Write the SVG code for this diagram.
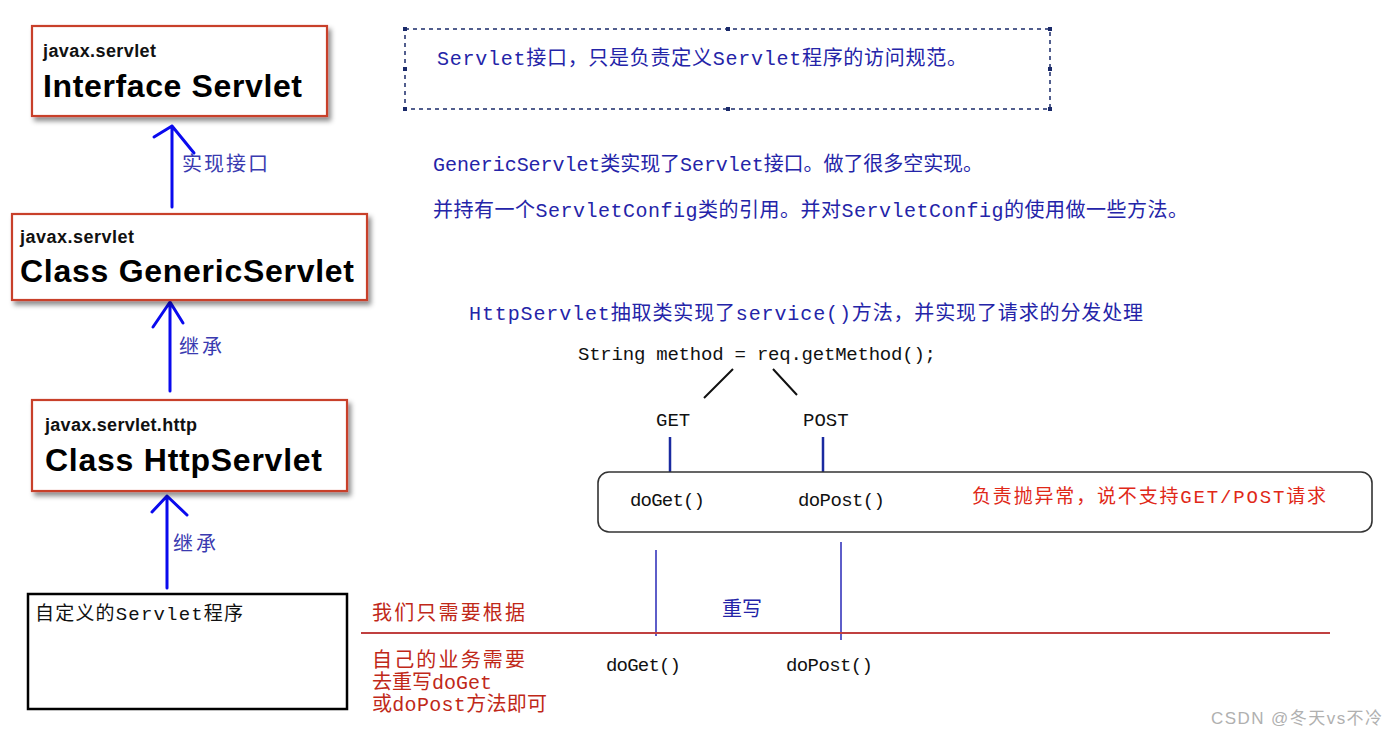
<svg xmlns="http://www.w3.org/2000/svg" width="1397" height="735" viewBox="0 0 1397 735">
<defs>
<filter id="sh" x="-10%" y="-10%" width="130%" height="140%">
<feDropShadow dx="3" dy="4" stdDeviation="2.5" flood-color="#000" flood-opacity="0.45"/>
</filter>
<style>
.cls{fill:#fff;stroke:#c8402a;stroke-width:2.2}
.pkg{font-family:"Liberation Sans",Arial,sans-serif;font-weight:bold;font-size:18px;fill:#111}
.ttl{font-family:"Liberation Sans",Arial,sans-serif;font-weight:bold;font-size:32px;fill:#000}
.arr{stroke:#0a0aee;stroke-width:3;fill:none;stroke-linecap:round;stroke-linejoin:round}
.lbl{font-family:"Liberation Mono","Noto Sans CJK SC",monospace;font-size:20px;fill:#3a3ab0}
.note{font-family:"Liberation Mono","Noto Sans CJK SC",monospace;font-size:20px;fill:#2424a8}
.code{font-family:"Liberation Mono","Noto Sans CJK SC",monospace;font-size:19px;fill:#111}
.red{font-family:"Liberation Mono","Noto Sans CJK SC",monospace;font-size:19px;fill:#e02818}
.dred{font-family:"Liberation Mono","Noto Sans CJK SC",monospace;font-size:20px;fill:#c02818}
.hd{fill:#1a2a6a}
</style>
</defs>
<rect width="1397" height="735" fill="#fff"/>

<g id="connectors">
<path class="arr" d="M172,207 V126 M154,137 L172,126 L194,153"/>
<path class="arr" d="M170,391 V302 M153,327 L170,302 L183,323"/>
<path class="arr" d="M167,588 V496 M152,512 L167,496 L187,515"/>
<path d="M733,369 L704,398 M773,369 L797,395" stroke="#111" stroke-width="2" fill="none"/>
<path d="M670,437 V476 M823,437 V474" stroke="#1a2aa0" stroke-width="2.5" fill="none"/>
<path d="M656,550 V636 M841,542 V640" stroke="#2a2ab8" stroke-width="1.5" fill="none"/>
<path d="M361,633 H1330" stroke="#c04040" stroke-width="2" fill="none"/>
</g>

<g id="lbl-impl"><text class="lbl" x="182" y="171" textLength="86">实现接口</text></g>
<g id="lbl-ext1"><text class="lbl" x="179" y="354" textLength="43">继承</text></g>
<g id="lbl-ext2"><text class="lbl" x="173" y="551" textLength="43">继承</text></g>

<g id="node-servlet">
<rect class="cls" x="32" y="26" width="295" height="90" filter="url(#sh)"/>
<text class="pkg" x="43" y="57" textLength="113">javax.servlet</text>
<text class="ttl" x="43" y="97" textLength="259">Interface Servlet</text>
</g>

<g id="node-generic">
<rect class="cls" x="12" y="214" width="355" height="86" filter="url(#sh)"/>
<text class="pkg" x="20" y="243" textLength="114">javax.servlet</text>
<text class="ttl" x="20" y="282" textLength="334">Class GenericServlet</text>
</g>

<g id="node-http">
<rect class="cls" x="32" y="400" width="315" height="91" filter="url(#sh)"/>
<text class="pkg" x="45" y="431" textLength="152">javax.servlet.http</text>
<text class="ttl" x="45" y="471" textLength="277">Class HttpServlet</text>
</g>

<g id="node-custom">
<rect x="28" y="594" width="319" height="115" fill="#fff" stroke="#000" stroke-width="2.5"/>
<text class="code" x="35" y="620" textLength="208" font-size="18">自定义的Servlet程序</text>
</g>

<g id="note-servlet">
<rect x="405" y="29" width="645" height="80" fill="none" stroke="#1a2a6a" stroke-width="1.5" stroke-dasharray="4,4"/>
<rect class="hd" x="403" y="27" width="4" height="4"/><rect class="hd" x="726" y="27" width="4" height="4"/><rect class="hd" x="1048" y="27" width="4" height="4"/>
<rect class="hd" x="403" y="67" width="4" height="4"/><rect class="hd" x="1048" y="67" width="4" height="4"/>
<rect class="hd" x="403" y="107" width="4" height="4"/><rect class="hd" x="726" y="107" width="4" height="4"/><rect class="hd" x="1048" y="107" width="4" height="4"/>
<text class="note" x="437" y="65" textLength="530">Servlet接口，只是负责定义Servlet程序的访问规范。</text>
</g>

<g id="note-generic">
<text class="note" x="433" y="171" textLength="550">GenericServlet类实现了Servlet接口。做了很多空实现。</text>
<text class="note" x="433" y="217" textLength="755">并持有一个ServletConfig类的引用。并对ServletConfig的使用做一些方法。</text>
</g>

<g id="note-http">
<text class="note" x="469" y="320" textLength="674">HttpServlet抽取类实现了service()方法，并实现了请求的分发处理</text>
<text class="code" x="578" y="360" textLength="358">String method = req.getMethod();</text>
<text class="code" x="656" y="426">GET</text>
<text class="code" x="803" y="426">POST</text>
</g>

<g id="node-service">
<rect x="598" y="472" width="774" height="60" rx="11" fill="#fff" stroke="#333" stroke-width="1.6"/>
<text class="code" x="630" y="506" textLength="75">doGet()</text>
<text class="code" x="798" y="506" textLength="87">doPost()</text>
<text class="red" x="972" y="503" textLength="354">负责抛异常，说不支持GET/POST请求</text>
</g>

<g id="node-override">
<text class="dred" x="372" y="620" textLength="153">我们只需要根据</text>
<text class="note" x="722" y="616" textLength="40">重写</text>
<text class="dred" x="372" y="667" textLength="153">自己的业务需要</text>
<text class="dred" x="372" y="689" textLength="120">去重写doGet</text>
<text class="dred" x="372" y="711" textLength="175">或doPost方法即可</text>
<text class="code" x="606" y="671" textLength="75">doGet()</text>
<text class="code" x="786" y="671" textLength="87">doPost()</text>
</g>

<text x="1211" y="724" font-family="'Liberation Sans','Noto Sans CJK SC',sans-serif" font-size="17" fill="#b0b0b0" textLength="171">CSDN @冬天vs不冷</text>
</svg>
